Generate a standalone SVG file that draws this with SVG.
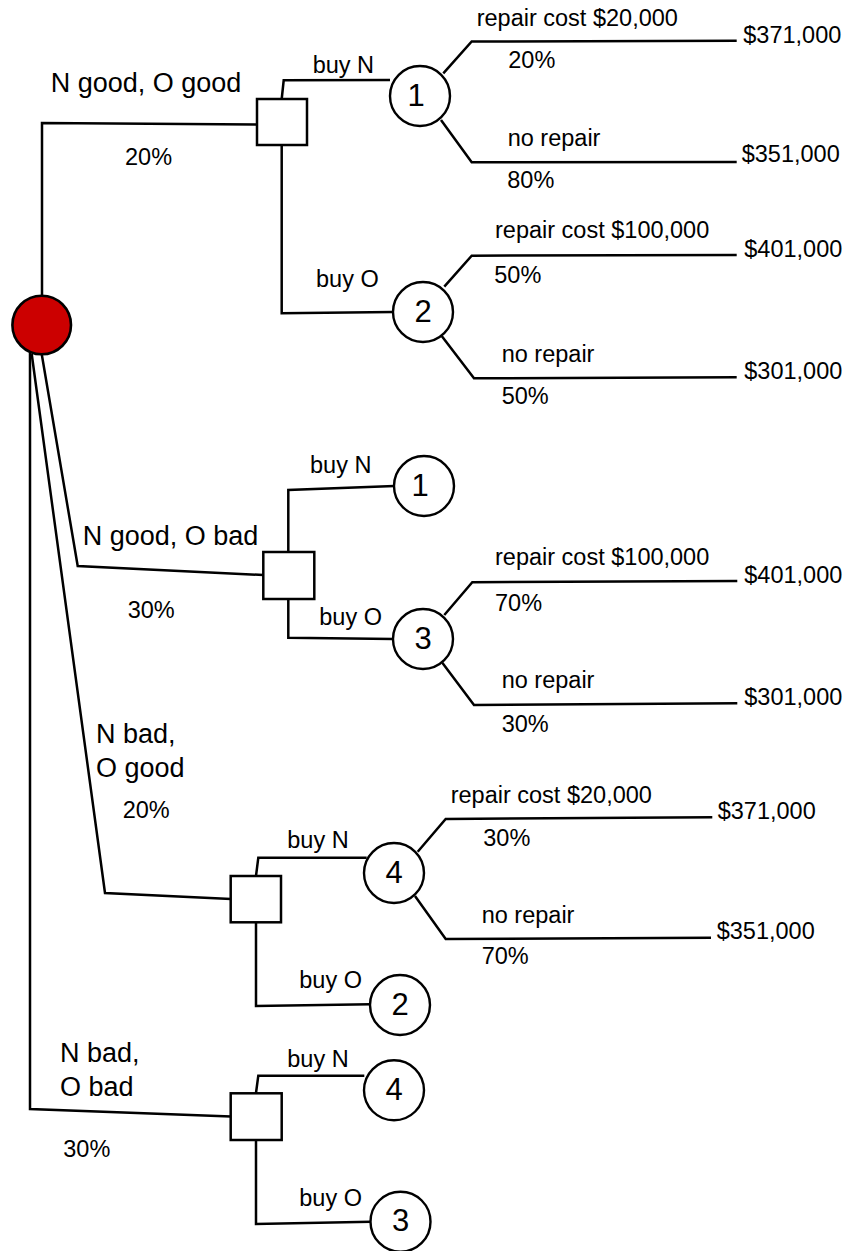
<svg xmlns="http://www.w3.org/2000/svg" width="849" height="1251" viewBox="0 0 849 1251">
<style>
.ln{fill:none;stroke:#000;stroke-width:2.5;stroke-linejoin:miter}
.ch{fill:#fff;stroke:#000;stroke-width:2.4}
.dec{fill:#fff;stroke:#000;stroke-width:2.5}
.s{font-family:"Liberation Sans",Arial,sans-serif;font-size:23.5px;fill:#000}
.l{font-family:"Liberation Sans",Arial,sans-serif;font-size:27px;fill:#000}
.d{font-family:"Liberation Sans",Arial,sans-serif;font-size:31px;fill:#000;text-anchor:middle}
</style>
<rect width="849" height="1251" fill="#fff"/>
<g id="connectors">
<polyline class="ln" points="42,296 42,123 257,124.5"/>
<polyline class="ln" points="41.7,354 77.7,566 263.3,575"/>
<polyline class="ln" points="31.7,354 105,893 231,899"/>
<polyline class="ln" points="30,353 30,1109 231,1116.5"/>
<polyline class="ln" points="281.7,99 283.7,80.3 390,80"/>
<polyline class="ln" points="281.7,145 281.7,313.3 393,312"/>
<polyline class="ln" points="443.3,73.3 471.7,41.5 736.7,40.7"/>
<polyline class="ln" points="441,120 471.7,162.3 736.7,162"/>
<polyline class="ln" points="444.3,286.7 471.7,255.7 736.7,255"/>
<polyline class="ln" points="441.7,336 474,378.3 736.7,377.3"/>
<polyline class="ln" points="288.3,552 288.3,490 394.3,486"/>
<polyline class="ln" points="288.3,599 288.3,637.7 393.3,639"/>
<polyline class="ln" points="444.3,615 472.3,582.3 737.3,581"/>
<polyline class="ln" points="442.3,662.7 474,705 737.3,703.3"/>
<polyline class="ln" points="256,876 258.3,857.7 366.7,857.7"/>
<polyline class="ln" points="256,922 256,1006 370.7,1004.3"/>
<polyline class="ln" points="417.7,851.7 445.7,819 712.3,817.3"/>
<polyline class="ln" points="415,896 445.7,939 711,937.7"/>
<polyline class="ln" points="256,1093 258.3,1075.7 364.3,1075.7"/>
<polyline class="ln" points="256,1140 256,1224 371,1221.7"/>
</g>
<g id="root">
<circle cx="41.7" cy="325" r="29.3" fill="#cc0000" stroke="#000" stroke-width="2.6"/>
</g>
<g id="labels-root">
<text class="l" x="50.7" y="91.7">N good, O good</text>
<text class="s" x="125" y="165">20%</text>
<text class="l" x="82.7" y="545">N good, O bad</text>
<text class="s" x="127.7" y="618.3">30%</text>
<text class="l" x="96" y="743.3">N bad,</text>
<text class="l" x="96" y="776.7">O good</text>
<text class="s" x="122.7" y="818.3">20%</text>
<text class="l" x="60" y="1062.3">N bad,</text>
<text class="l" x="60" y="1096">O bad</text>
<text class="s" x="63.3" y="1157.3">30%</text>
</g>
<g id="decision1">
<rect class="dec" x="257" y="99" width="50" height="46"/>
<text class="s" x="312.7" y="72.7">buy N</text>
<text class="s" x="316" y="287.3">buy O</text>
</g>
<g id="decision2">
<rect class="dec" x="263.3" y="552" width="51" height="47"/>
<text class="s" x="310" y="473.3">buy N</text>
<text class="s" x="319.3" y="625">buy O</text>
</g>
<g id="decision3">
<rect class="dec" x="230.7" y="876" width="50.3" height="46.3"/>
<text class="s" x="287.3" y="848">buy N</text>
<text class="s" x="299.3" y="987.7">buy O</text>
</g>
<g id="decision4">
<rect class="dec" x="230.7" y="1093.3" width="51" height="46.7"/>
<text class="s" x="287.3" y="1066.7">buy N</text>
<text class="s" x="299.3" y="1206">buy O</text>
</g>
<g id="chance1a">
<circle class="ch" cx="420" cy="96" r="30"/>
<text class="d" x="416" y="105.5">1</text>
<text class="s" x="476.7" y="26">repair cost $20,000</text>
<text class="s" x="508.3" y="68.3">20%</text>
<text class="s" x="743.3" y="42.7">$371,000</text>
<text class="s" x="507.7" y="145.7">no repair</text>
<text class="s" x="507.3" y="188.3">80%</text>
<text class="s" x="741.7" y="162.3">$351,000</text>
</g>
<g id="chance2a">
<circle class="ch" cx="423" cy="312" r="30"/>
<text class="d" x="423" y="321.5">2</text>
<text class="s" x="495" y="238.3">repair cost $100,000</text>
<text class="s" x="494.3" y="283.3">50%</text>
<text class="s" x="744.3" y="256.7">$401,000</text>
<text class="s" x="501.7" y="361.7">no repair</text>
<text class="s" x="501.7" y="404.3">50%</text>
<text class="s" x="744.3" y="379">$301,000</text>
</g>
<g id="chance1b">
<circle class="ch" cx="424" cy="486" r="30"/>
<text class="d" x="420" y="495.5">1</text>
</g>
<g id="chance3a">
<circle class="ch" cx="423" cy="639" r="30"/>
<text class="d" x="423" y="648.5">3</text>
<text class="s" x="495" y="565">repair cost $100,000</text>
<text class="s" x="495" y="610.7">70%</text>
<text class="s" x="744.3" y="583.3">$401,000</text>
<text class="s" x="501.7" y="688.3">no repair</text>
<text class="s" x="501.7" y="731.7">30%</text>
<text class="s" x="744.3" y="705">$301,000</text>
</g>
<g id="chance4a">
<circle class="ch" cx="394" cy="873" r="30"/>
<text class="d" x="394" y="882.5">4</text>
<text class="s" x="450.7" y="802.7">repair cost $20,000</text>
<text class="s" x="483.3" y="846">30%</text>
<text class="s" x="717.7" y="819.3">$371,000</text>
<text class="s" x="481.7" y="922.7">no repair</text>
<text class="s" x="481.7" y="964.3">70%</text>
<text class="s" x="716.7" y="939">$351,000</text>
</g>
<g id="chance2b">
<circle class="ch" cx="400" cy="1005" r="30"/>
<text class="d" x="400" y="1014.5">2</text>
</g>
<g id="chance4b">
<circle class="ch" cx="394" cy="1090.3" r="30"/>
<text class="d" x="394" y="1099.8">4</text>
</g>
<g id="chance3b">
<circle class="ch" cx="400.5" cy="1221.7" r="30"/>
<text class="d" x="400.5" y="1231.2">3</text>
</g>
</svg>
